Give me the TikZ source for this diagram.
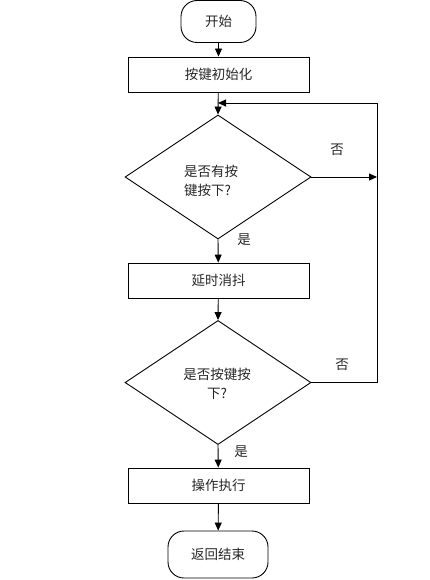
\documentclass[tikz,border=0pt]{standalone}
\usepackage{fontspec}
\setmainfont{Noto Sans CJK SC}
\usetikzlibrary{shapes.geometric,arrows.meta}
\begin{document}
\begin{tikzpicture}[x=1pt,y=-1pt,
  every node/.style={font=\fontsize{13.5}{19}\selectfont, text=black!85},
  proc/.style={draw, line width=0.9pt, minimum width=181, minimum height=35, inner sep=0},
  term/.style={draw, line width=0.9pt, rounded corners=16, inner sep=0},
  deci/.style={draw, diamond, line width=0.9pt, minimum width=186, minimum height=124, inner sep=0},
  arr/.style={line width=0.9pt, -{Triangle[length=8pt,width=7pt]}},
  ln/.style={line width=0.9pt}]
\useasboundingbox (0,0) rectangle (430,580);
\node[term, minimum width=75, minimum height=42] (start) at (218.5,21.5) {开始};
\node[proc] (init) at (218.5,74.5) {按键初始化};
\node[deci] (d1) at (218,177) {};
\node[anchor=west, align=left, inner sep=0] (d1t) at (184,181) {是否有按\\键按下?};
\node[proc] (delay) at (218.5,280.5) {延时消抖};
\node[deci] (d2) at (218,382.5) {};
\node[align=center, inner sep=0] (d2t) at (217,384) {是否按键按\\下?};
\node[proc] (exec) at (218.5,485.5) {操作执行};
\node[term, minimum width=100, minimum height=47] (stop) at (218,554.5) {返回结束};
\coordinate (j1) at (218,103);
\coordinate (r1) at (377,177);
\coordinate (r2) at (377,382.5);
\coordinate (rt) at (377,103);
\draw[arr] (start) -- (init);
\draw[arr] (init) -- (d1.north);
\draw[arr] (d1.south) -- (delay);
\draw[arr] (delay) -- (d2.north);
\draw[arr] (d2.south) -- (exec);
\draw[arr] (exec) -- (stop);
\draw[arr] (d1.east) -- (r1);
\draw[ln] (d2.east) -- (r2) -- (rt);
\draw[arr] (rt) -- (j1);
\node (n1) at (337,150) {否};
\node (y1) at (244,240) {是};
\node (n2) at (342,365) {否};
\node (y2) at (241,452) {是};
\end{tikzpicture}
\end{document}
